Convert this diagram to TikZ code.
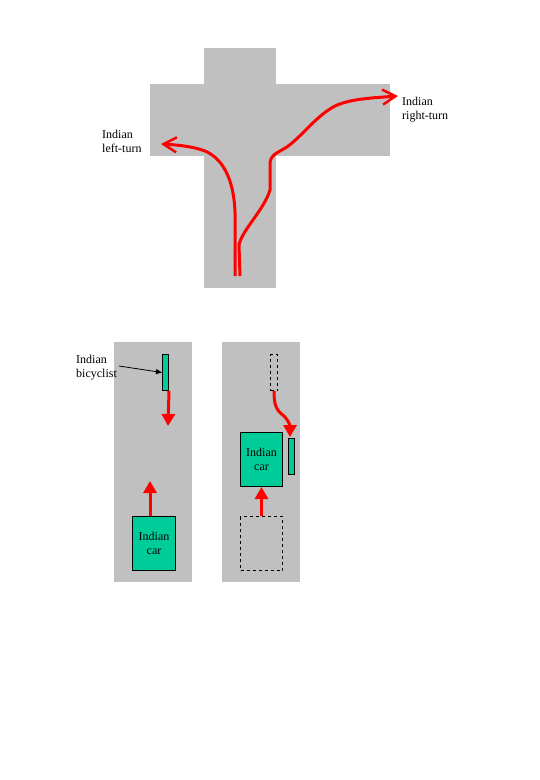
\documentclass[tikz,border=0pt]{standalone}
\usepackage{fontspec}
\setmainfont{Liberation Serif}
\usetikzlibrary{arrows.meta}
\definecolor{road}{HTML}{C0C0C0}
\definecolor{carg}{HTML}{00CC99}
\tikzset{
  lbl/.style={font=\fontsize{12}{14}\selectfont, align=left, inner sep=0pt},
  carbox/.style={draw=black, line width=1pt, fill=carg, minimum width=43pt, minimum height=54pt, inner sep=0pt, font=\fontsize{12}{14}\selectfont, align=center, anchor=north west},
  ghostcar/.style={draw=black, line width=1pt, dashed, minimum width=42pt, minimum height=54pt, inner sep=0pt, anchor=north west},
  bikebox/.style={draw=black, line width=1pt, fill=carg, minimum width=6pt, minimum height=36pt, inner sep=0pt, anchor=north west},
  ghostbike/.style={draw=black, line width=1pt, dashed, minimum width=7pt, minimum height=36pt, inner sep=0pt, anchor=north west},
  redarrow/.style={draw=red, line width=3pt, -{Triangle[width=13pt,length=12pt]}},
  turnarrow/.style={draw=red, line width=3pt, line cap=butt, -{Straight Barb[length=13pt,width=15pt,line width=2.5pt]}},
  leader/.style={draw=black, line width=0.8pt, -{Triangle[width=5pt,length=6pt]}}
}
\begin{document}
\begin{tikzpicture}[x=1pt,y=-1pt]
\useasboundingbox (0,0) rectangle (540,780);
% cross road
\fill[road] (204,48) rectangle (276,288);
\fill[road] (150,84) rectangle (390,156);
% turning paths
\coordinate (lstart) at (235,276);
\coordinate (rstart) at (240,276);
\coordinate (ltip) at (161,144);
\coordinate (rtip) at (398,96);
\draw[turnarrow] (lstart) -- (235,212) .. controls (234,185) and (226,160) .. (205,151) .. controls (195,147) and (180,145) .. (ltip);
\draw[turnarrow] (rstart) -- (239,245) .. controls (242,230) and (264,210) .. (270,190) -- (270,162) .. controls (272,152) and (282,152) .. (292,143) .. controls (305,132) and (318,115) .. (335,106) .. controls (350,99) and (370,98) .. (rtip);
\node[lbl, anchor=north west] (ltxt) at (102,130) {Indian\\left-turn};
\node[lbl, anchor=north west] (rtxt) at (402,97) {Indian\\right-turn};
% left panel
\fill[road] (114,342) rectangle (192,582);
\node[bikebox] (bike1) at (162,354) {};
\coordinate (b1tip) at (168,426);
\draw[redarrow] (bike1.south east) -- (b1tip);
\node[carbox] (car1) at (132,516) {Indian\\car};
\coordinate (c1tip) at (150,481);
\draw[redarrow] (car1.north -| c1tip) -- (c1tip);
\node[lbl, anchor=north west] (btxt) at (76,355) {Indian\\bicyclist};
\coordinate (lead) at (119,366);
\draw[leader] (lead) -- (bike1.west);
% right panel
\fill[road] (222,342) rectangle (300,582);
\node[ghostbike] (dbike) at (270,354) {};
\node[bikebox] (bike2) at (288,438) {};
\coordinate (b2tip) at (290,437);
\draw[redarrow] (dbike.south) .. controls (274,405) and (276,410) .. (284,416) .. controls (289,421) and (290,426) .. (b2tip);
\node[carbox, minimum width=42pt] (car2) at (240,432) {Indian\\car};
\node[ghostcar] (dcar) at (240,516) {};
\draw[redarrow] (dcar.north) -- (car2.south);
\end{tikzpicture}
\end{document}
